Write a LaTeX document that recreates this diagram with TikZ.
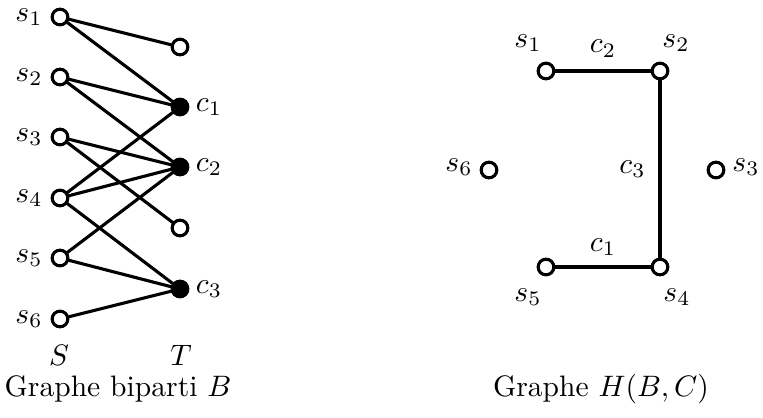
\documentclass[tikz,border=0pt]{standalone}
\begin{document}
\begin{tikzpicture}[x={(0.338pt,0)},y={(0,-0.338pt)},
  vtx/.style={circle,draw,line width=1.05pt,fill=white,inner sep=0pt,minimum size=5.3pt,outer sep=0pt},
  cvtx/.style={vtx,fill=black},
  edge/.style={line width=1.05pt},
  lbl/.style={inner sep=0pt}]
\useasboundingbox (0,0) rectangle (763,417);
% bipartite graph
\node[vtx] (s1) at (60,17) {};
\node[vtx] (s2) at (60,77) {};
\node[vtx] (s3) at (60,137) {};
\node[vtx] (s4) at (60,198) {};
\node[vtx] (s5) at (60,258) {};
\node[vtx] (s6) at (60,319) {};
\node[vtx] (t1) at (180,47) {};
\node[cvtx] (c1) at (180,107) {};
\node[cvtx] (c2) at (180,167) {};
\node[vtx] (t4) at (180,228) {};
\node[cvtx] (c3) at (180,289) {};
\foreach \i/\y in {1/17,2/77,3/137,4/198,5/258,6/319}
  \node[lbl] (ls\i) at (29,\y) {$s_{\i}$};
\node[lbl] (lc1) at (209,107) {$c_1$};
\node[lbl] (lc2) at (209,167) {$c_2$};
\node[lbl] (lc3) at (209,289) {$c_3$};
\draw[edge] (s1) -- (t1);
\draw[edge] (s1) -- (c1);
\draw[edge] (s2) -- (c1);
\draw[edge] (s2) -- (c2);
\draw[edge] (s3) -- (c2);
\draw[edge] (s3) -- (t4);
\draw[edge] (s4) -- (c1);
\draw[edge] (s4) -- (c2);
\draw[edge] (s4) -- (c3);
\draw[edge] (s5) -- (c2);
\draw[edge] (s5) -- (c3);
\draw[edge] (s6) -- (c3);
\node[lbl] (S) at (59,355) {$S$};
\node[lbl] (T) at (181,355) {$T$};
\node[lbl] (capB) at (118,389) {Graphe biparti $B$};
% graph H
\node[vtx] (h1) at (546,71) {};
\node[vtx] (h2) at (660,71) {};
\node[vtx] (h3) at (716,170) {};
\node[vtx] (h4) at (660,267) {};
\node[vtx] (h5) at (546,267) {};
\node[vtx] (h6) at (489,170) {};
\node[lbl] (lh1) at (528,43) {$s_1$};
\node[lbl] (lh2) at (676,43) {$s_2$};
\node[lbl] (lh3) at (746,167) {$s_3$};
\node[lbl] (lh4) at (677,297) {$s_4$};
\node[lbl] (lh5) at (528,297) {$s_5$};
\node[lbl] (lh6) at (459,167) {$s_6$};
\draw[edge] (h1) -- node[lbl,pos=0.5,yshift=7.6pt] (e2) {$c_2$} (h2);
\draw[edge] (h2) -- node[lbl,pos=0.5,xshift=-9.3pt] (e3) {$c_3$} (h4);
\draw[edge] (h5) -- node[lbl,pos=0.5,yshift=6.7pt] (e1) {$c_1$} (h4);
\node[lbl] (capH) at (601,389) {Graphe $H(B,C)$};
\end{tikzpicture}
\end{document}
